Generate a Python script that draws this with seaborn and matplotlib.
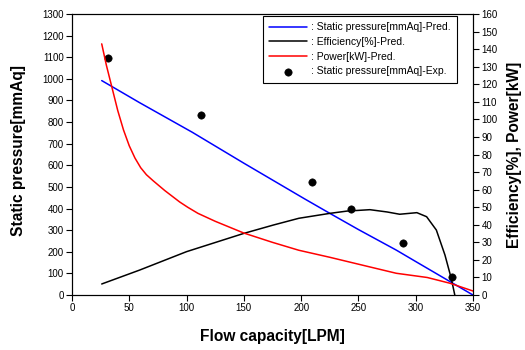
import matplotlib
matplotlib.use("Agg")
import matplotlib.pyplot as plt
import seaborn as sns
import pandas as pd

# Static pressure prediction [mmAq]
sp_flow = [26, 59, 105, 150, 203, 225, 250, 283, 300, 350]
sp_pred = [992, 890, 753, 610, 445, 378, 303, 208, 155, 0]

# Efficiency prediction [%]
eff_flow = [26, 59, 100, 150, 176, 198, 225, 240, 260, 275, 286, 301, 309.5, 318, 325.5, 331, 335, 337]
eff_pred = [6.3, 14.2, 24.7, 35.1, 39.9, 43.7, 46.5, 47.8, 48.6, 47.3, 46.0, 46.9, 44.6, 37.0, 22.8, 9.5, -2.8, -8]

# Power prediction [kW]
pw_flow = [26, 30, 35, 40, 45, 50, 55, 60, 65, 71, 81, 94, 101, 110, 125, 150, 175, 198, 225, 260, 283, 310, 330, 350]
pw_pred = [143, 131, 118, 105, 94, 85, 78, 72.5, 68.5, 65, 59.5, 53, 50, 46.5, 42, 35.3, 30, 25.5, 21.5, 16, 12.4, 10, 6.7, 2.3]

# Static pressure experiment [mmAq]
exp_flow = [31.5, 112.5, 209.5, 243.5, 288.5, 332]
exp_sp = [1095, 835, 524, 400, 239, 82]

sp_df = pd.DataFrame({"flow": sp_flow, "value": sp_pred})
eff_df = pd.DataFrame({"flow": eff_flow, "value": eff_pred})
pw_df = pd.DataFrame({"flow": pw_flow, "value": pw_pred})
exp_df = pd.DataFrame({"flow": exp_flow, "value": exp_sp})

sns.set_style("ticks")
plt.rcParams["font.family"] = ["Liberation Sans", "DejaVu Sans"]
plt.rcParams["text.color"] = "black"
plt.rcParams["axes.labelcolor"] = "black"
plt.rcParams["xtick.color"] = "black"
plt.rcParams["ytick.color"] = "black"

fig = plt.figure(figsize=(5.25, 3.5), dpi=100)
ax = fig.add_axes([0.137, 0.157, 0.764, 0.803])
ax2 = ax.twinx()

sns.lineplot(data=sp_df, x="flow", y="value", ax=ax, color="blue", lw=1.1,
             label=": Static pressure[mmAq]-Pred.", legend=False)
sns.scatterplot(data=exp_df, x="flow", y="value", ax=ax, color="black", s=28,
                edgecolor="black", zorder=5, label=": Static pressure[mmAq]-Exp.", legend=False)
sns.lineplot(data=eff_df, x="flow", y="value", ax=ax2, color="black", lw=1.1,
             label=": Efficiency[%]-Pred.", legend=False)
sns.lineplot(data=pw_df, x="flow", y="value", ax=ax2, color="red", lw=1.1,
             label=": Power[kW]-Pred.", legend=False)

ax.set_xlim(0, 350)
ax.set_ylim(0, 1300)
ax2.set_ylim(0, 160)
ax.set_xticks(range(0, 351, 50))
ax.set_yticks(range(0, 1301, 100))
ax2.set_yticks(range(0, 161, 10))

for a in (ax, ax2):
    a.tick_params(direction="out", length=4, width=0.8, labelsize=7, pad=2, colors="black")
    for s in a.spines.values():
        s.set_linewidth(0.8)
        s.set_color("black")

ax.set_xlabel("Flow capacity[LPM]", fontsize=11.2, fontweight="bold")
ax.set_ylabel("Static pressure[mmAq]", fontsize=11.2, fontweight="bold")
ax2.set_ylabel("Efficiency[%], Power[kW]", fontsize=11.2, fontweight="bold")
ax.xaxis.set_label_coords(0.5, -0.122)
ax.yaxis.set_label_coords(-0.115, 0.516)
ax2.yaxis.set_label_coords(1.085, 0.5)

h1, l1 = ax.get_legend_handles_labels()
h2, l2 = ax2.get_legend_handles_labels()
handles = [h1[0], h2[0], h2[1], h1[1]]
labels = [l1[0], l2[0], l2[1], l1[1]]
leg = ax2.legend(handles, labels, loc="upper right", bbox_to_anchor=(0.96, 0.993),
                 borderaxespad=0, fontsize=7.5, frameon=True, fancybox=False,
                 framealpha=1, edgecolor="black", handlelength=3.6,
                 handletextpad=0.4, labelspacing=0.45, borderpad=0.6)
leg.get_frame().set_linewidth(0.8)

fig.savefig("out.png", dpi=100)
